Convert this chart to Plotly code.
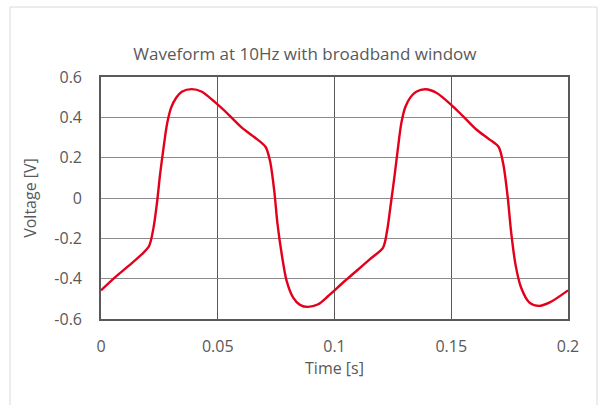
import plotly.graph_objects as go

# Data
time_s = [0.0, 0.0061, 0.0118, 0.0175, 0.0206, 0.0225, 0.0239, 0.0253, 0.0268, 0.0283,
          0.0300, 0.0322, 0.0346, 0.0389, 0.0432, 0.0488, 0.0545, 0.0603, 0.066, 0.0705,
          0.0724, 0.0742, 0.0756, 0.0774, 0.0795, 0.0823, 0.0852, 0.0887, 0.093, 0.0973,
          0.1037, 0.1094, 0.1151, 0.1208, 0.1225, 0.1241, 0.1258, 0.1272, 0.1286, 0.1303,
          0.1325, 0.135, 0.139, 0.1436, 0.15, 0.1549, 0.1606, 0.1663, 0.1703, 0.1723,
          0.1742, 0.1756, 0.1775, 0.1799, 0.1835, 0.1874, 0.192, 0.2]
voltage_v = [-0.458, -0.392, -0.337, -0.279, -0.238, -0.147, -0.031, 0.117, 0.25, 0.368,
             0.447, 0.497, 0.527, 0.540, 0.527, 0.475, 0.415, 0.349, 0.299, 0.253,
             0.183, 0.035, -0.130, -0.279, -0.411, -0.494, -0.530, -0.540, -0.527, -0.486,
             -0.419, -0.362, -0.304, -0.246, -0.164, -0.031, 0.117, 0.25, 0.370, 0.450,
             0.499, 0.527, 0.539, 0.522, 0.462, 0.407, 0.341, 0.291, 0.253, 0.167,
             0.002, -0.164, -0.329, -0.444, -0.519, -0.535, -0.519, -0.458]

x_tick_vals = [0, 0.05, 0.1, 0.15, 0.2]
x_tick_text = ["0", "0.05", "0.1", "0.15", "0.2"]
y_tick_vals = [-0.6, -0.4, -0.2, 0, 0.2, 0.4, 0.6]
y_tick_text = ["-0.6", "-0.4", "-0.2", "0", "0.2", "0.4", "0.6"]

title_text = "Waveform at 10Hz with broadband window"
x_title = "Time [s]"
y_title = "Voltage [V]"

FONT = "Open Sans"
GRAY = "#595959"

fig = go.Figure()
fig.add_trace(go.Scatter(
    x=time_s, y=voltage_v, mode="lines",
    line=dict(color="#e3001b", width=2.4, shape="spline", smoothing=0.8),
    showlegend=False, hoverinfo="skip",
))

fig.update_layout(
    width=605, height=405,
    margin=dict(l=101, r=37, t=77, b=86),
    paper_bgcolor="white", plot_bgcolor="white",
    font=dict(family=FONT, size=16, color=GRAY),
    title=dict(text=title_text, font=dict(family=FONT, size=17, color=GRAY),
               xref="container", x=0.504, xanchor="center",
               yref="container", y=1 - 54 / 405, yanchor="middle"),
    xaxis=dict(range=[0, 0.2], tickvals=x_tick_vals, ticktext=x_tick_text,
               showgrid=True, gridcolor=GRAY, gridwidth=1.2,
               showline=True, linecolor=GRAY, linewidth=1.6, mirror=True,
               zeroline=False, ticks="", ticklabelstandoff=12,
               title=dict(text=x_title, standoff=4,
                          font=dict(family=FONT, size=16, color=GRAY)),
               tickfont=dict(family=FONT, size=16, color=GRAY)),
    yaxis=dict(range=[-0.6, 0.6], tickvals=y_tick_vals, ticktext=y_tick_text,
               showgrid=True, gridcolor="#8c8c8c", gridwidth=1.2,
               showline=True, linecolor=GRAY, linewidth=1.6, mirror=True,
               zeroline=False, ticks="", ticklabelstandoff=14,
               title=dict(text=y_title, standoff=14,
                          font=dict(family=FONT, size=16, color=GRAY)),
               tickfont=dict(family=FONT, size=16, color=GRAY)),
    shapes=[dict(type="rect", xref="paper", yref="paper",
                 x0=(10 - 101) / 467, x1=(597 - 101) / 467,
                 y0=(319 - 412) / 242, y1=(319 - 7) / 242,
                 line=dict(color="#d9d9d9", width=1), fillcolor="rgba(0,0,0,0)",
                 layer="below")],
)

fig.write_html("out.html")
